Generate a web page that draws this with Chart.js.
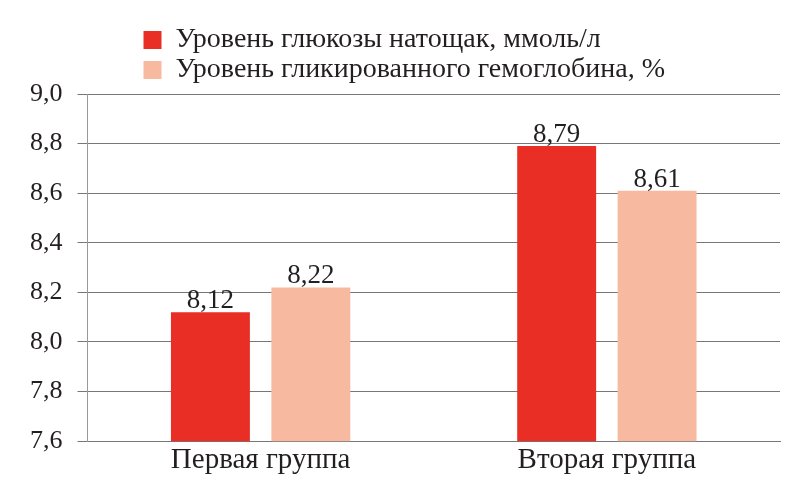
<!DOCTYPE html>
<html>
<head>
<meta charset="utf-8">
<script src="https://cdn.jsdelivr.net/npm/chart.js@4"></script>
</head>
<body style="margin:0;background:#fff">
<canvas id="c" width="800" height="485"></canvas>
<script>
const categories = ['Первая группа', 'Вторая группа'];
const seriesNames = ['Уровень глюкозы натощак, ммоль/л', 'Уровень гликированного гемоглобина, %'];
const glucose = [8.12, 8.79];
const hba1c = [8.22, 8.61];
const yMin = 7.6, yMax = 9.0, yStep = 0.2;

const FONT = 'Liberation Serif';
const TEXT = '#231f20';
const fmt = v => Number(v).toFixed(2).replace('.', ',');

const valueLabels = {
  id: 'valueLabels',
  afterDatasetsDraw(chart) {
    const ctx = chart.ctx;
    ctx.save();
    ctx.font = '27px ' + FONT;
    ctx.fillStyle = TEXT;
    ctx.textAlign = 'center';
    ctx.textBaseline = 'alphabetic';
    chart.data.datasets.forEach((ds, i) => {
      const meta = chart.getDatasetMeta(i);
      meta.data.forEach((el, j) => {
        ctx.fillText(fmt(ds.data[j]), el.x, el.y - 4);
      });
    });
    ctx.restore();
  }
};

const legendShift = {
  id: 'legendShift',
  afterLayout(chart) {
    const l = chart.legend;
    if (l) { l.left += 54; l.right += 54; }
  }
};

new Chart(document.getElementById('c'), {
  type: 'bar',
  data: {
    labels: categories,
    datasets: [
      { label: seriesNames[0], data: glucose, backgroundColor: '#e92e26', barPercentage: 0.786, categoryPercentage: 0.58 },
      { label: seriesNames[1], data: hba1c, backgroundColor: '#f7b9a0', barPercentage: 0.786, categoryPercentage: 0.58 }
    ]
  },
  options: {
    responsive: false,
    animation: false,
    layout: { padding: { left: 15, right: 20, top: 24, bottom: 5 } },
    plugins: {
      tooltip: { enabled: false },
      legend: {
        position: 'top',
        align: 'start',
        fullSize: false,
        labels: {
          font: { family: FONT, size: 28 },
          color: TEXT,
          boxWidth: 18,
          boxHeight: 18,
          padding: 2
        }
      }
    },
    scales: {
      x: {
        grid: { display: false, drawTicks: false },
        border: { display: true, color: '#777' },
        ticks: { font: { family: FONT, size: 29 }, color: TEXT, padding: 2 }
      },
      y: {
        min: yMin, max: yMax,
        ticks: {
          stepSize: yStep,
          font: { family: FONT, size: 26 },
          color: TEXT,
          padding: 15,
          callback: v => Number(v).toFixed(1).replace('.', ',')
        },
        grid: { color: '#777', lineWidth: 1, tickLength: 10 },
        border: { display: true, color: '#999' }
      }
    }
  },
  plugins: [valueLabels, legendShift]
});
</script>
</body>
</html>
